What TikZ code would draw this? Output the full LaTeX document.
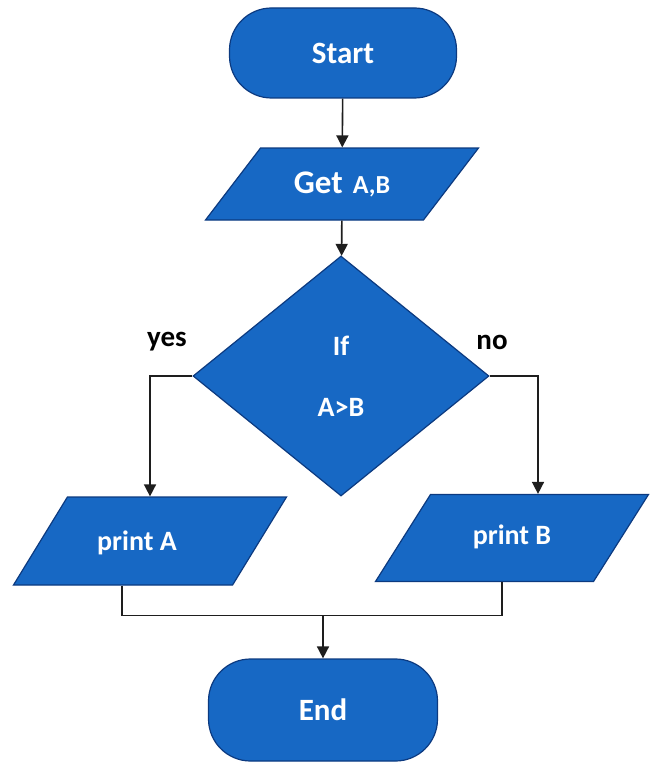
\documentclass[tikz,border=0pt]{standalone}
\usepackage{fontspec}
\setmainfont{Carlito}
\usetikzlibrary{shapes.geometric,arrows.meta}
\definecolor{boxblue}{RGB}{23,104,196}
\definecolor{boxedge}{RGB}{12,58,128}
\definecolor{wirecol}{RGB}{30,30,30}
\tikzset{
  term/.style={draw=boxedge,fill=boxblue,line width=1.2pt,rounded corners=42pt,minimum width=227pt,minimum height=90pt,text=white,font=\fontsize{31}{36}\selectfont\bfseries},
  io/.style={draw=boxedge,fill=boxblue,line width=1.2pt,trapezium,trapezium stretches body,inner xsep=4pt,inner ysep=0pt,minimum width=273pt,text=white,font=\fontsize{28}{34}\selectfont\bfseries},
  test/.style={draw=boxedge,fill=boxblue,line width=1.2pt,diamond,aspect=1.23,minimum width=296pt,minimum height=240pt,inner sep=0pt,align=center,text=white,font=\fontsize{28}{34}\selectfont\bfseries},
  tag/.style={text=black,font=\fontsize{29}{34}\selectfont\bfseries},
  wire/.style={draw=wirecol,line width=1.6pt},
  flowarrow/.style={wire,-{Triangle[length=12pt,width=12pt]}}
}
\begin{document}
\begin{tikzpicture}[x=1pt,y=-1pt]
    \useasboundingbox (0,0) rectangle (651,765);

    \node[term] (start) at (343,53) {Start};
    % height of the slanted boxes comes from text height + text depth
    \node[io,trapezium left angle=52.6,trapezium right angle=127.4,text height=45pt,text depth=27pt] (get) at (342,184)
        {{\fontsize{33}{36}\selectfont Get}\hspace{10pt}{\fontsize{26}{30}\selectfont A,B}};
    \node[test] (dec) at (341,376) {If\\[27pt]A>B};
    \node[tag] (yes) at (167,342) {yes};
    \node[tag] (no) at (492,342) {no};
    \node[io,trapezium left angle=58.5,trapezium right angle=121.5,text height=53pt,text depth=35pt] (pa) at (150,541) {print A\hspace*{26pt}};
    \node[io,trapezium left angle=57.7,trapezium right angle=122.3,text height=50pt,text depth=37pt] (pb) at (512,538) {print B};
    \coordinate (join) at (323,615);
    \node[term,minimum width=229pt,minimum height=102pt] (end) at (323,710) {End};

    \draw[flowarrow] (start) -- (get);
    \draw[flowarrow] (get) -- (dec);
    \draw[flowarrow] (dec.west) -| (pa.north);
    \draw[flowarrow] (dec.east) -| ([xshift=26pt]pb.north);
    \draw[wire] ([xshift=-28pt]pa.south) -- ++(0,30) -| ([xshift=-10pt]pb.south);
    \draw[flowarrow] (join) -- (end);
\end{tikzpicture}
\end{document}
